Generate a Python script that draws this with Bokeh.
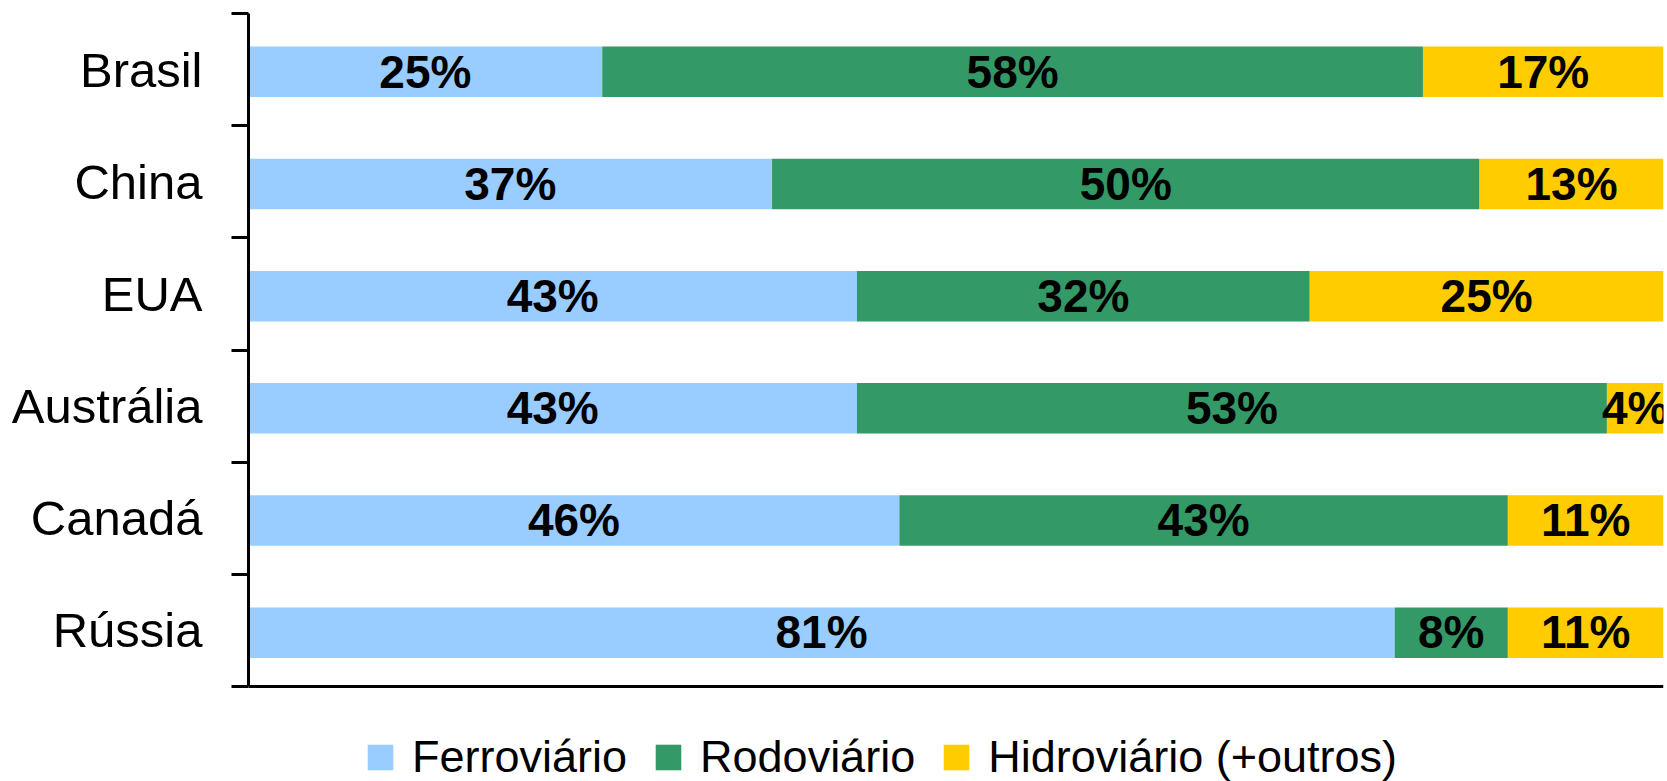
from bokeh.plotting import figure
from bokeh.models import ColumnDataSource, Range1d, FixedTicker, Legend, LegendItem, LabelSet, Span
from bokeh.transform import dodge
from bokeh.core.properties import value
from bokeh.embed import file_html
from bokeh.resources import INLINE

countries = ["Brasil", "China", "EUA", "Austrália", "Canadá", "Rússia"]
modes = ["Ferroviário", "Rodoviário", "Hidroviário (+outros)"]
ferroviario = [25, 37, 43, 43, 46, 81]
rodoviario = [58, 50, 32, 53, 43, 8]
hidroviario = [17, 13, 25, 4, 11, 11]
colors = ["#99CCFF", "#339966", "#FFCC00"]

FONT = "Liberation Sans"
n = len(countries)
ypos = [n - 0.5 - i for i in range(n)]

# layout in pixels: bars area from y=13 to y=686, figure height 781 (legend area below)
W, H = 1667, 781
TOP, AXIS_BOTTOM = 13, 686
unit = (AXIS_BOTTOM - TOP) / n
ystart = -(H - AXIS_BOTTOM) / unit

p = figure(width=W, height=H, output_backend="svg", toolbar_location=None,
           x_range=Range1d(0, 100), y_range=Range1d(ystart, n),
           min_border_left=248, min_border_right=4, min_border_top=TOP, min_border_bottom=0)
p.outline_line_color = None
p.xgrid.visible = False
p.ygrid.visible = False
p.xaxis.visible = False
p.background_fill_color = "white"

series = [ferroviario, rodoviario, hidroviario]
renderers = []
left = [0] * n
for vals, col, name in zip(series, colors, modes):
    right = [l + v for l, v in zip(left, vals)]
    src = ColumnDataSource(dict(y=ypos, left=left, right=right,
                                mid=[(l + r) / 2 for l, r in zip(left, right)],
                                lab=[f"{v}%" for v in vals]))
    r = p.hbar(y=dodge("y", -0.02), left="left", right="right", height=0.45, source=src,
               fill_color=col, line_color=None)
    renderers.append(r)
    p.add_layout(LabelSet(x="mid", y="y", text="lab", source=src,
                          text_font=value(FONT), text_font_style="bold",
                          text_font_size="46px", text_color="black",
                          text_align="center", text_baseline="middle", y_offset=-2))
    left = right

# bottom axis line
p.add_layout(Span(location=0, dimension="width", line_color="black", line_width=3))

# y axis: labels at category centres, ticks at category boundaries
yax = p.yaxis[0]
yax.bounds = (0, n)
yax.ticker = FixedTicker(ticks=ypos, minor_ticks=list(range(n + 1)))
yax.major_label_overrides = {y: c for y, c in zip(ypos, countries)}
yax.major_tick_out = 0
yax.major_tick_in = 0
yax.minor_tick_out = 17
yax.minor_tick_in = 0
yax.minor_tick_line_width = 3
yax.minor_tick_line_color = "black"
yax.axis_line_width = 3
yax.axis_line_color = "black"
yax.major_label_standoff = 29
yax.major_label_text_font = FONT
yax.major_label_text_font_size = "49px"
yax.major_label_text_color = "black"

legend = Legend(items=[LegendItem(label=m, renderers=[r]) for m, r in zip(modes, renderers)],
                orientation="horizontal", location=(116, -2),
                glyph_width=32, glyph_height=32, label_standoff=16, spacing=25,
                padding=0, margin=0, border_line_color=None, background_fill_alpha=0,
                label_text_font=FONT, label_text_font_size="45px", label_text_color="black",
                label_height=32)
p.add_layout(legend, "center")

open("out.html", "w").write(file_html(p, INLINE))
